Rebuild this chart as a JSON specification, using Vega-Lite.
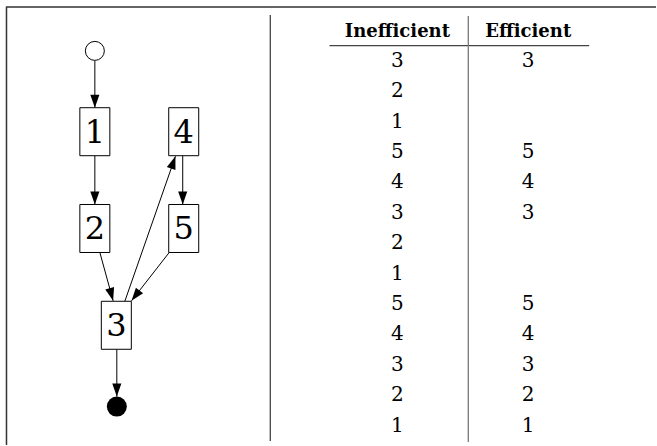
{
  "$schema": "https://vega.github.io/schema/vega-lite/v6.json",
  "width": 657,
  "height": 446,
  "autosize": {"type": "fit", "contains": "padding"},
  "padding": 0,
  "background": "white",
  "config": {"view": {"stroke": null}},
  "datasets": {
    "frame": [
      {"x": 6.5, "y": 7, "x2": 657, "y2": 7},
      {"x": 6.5, "y": 6.5, "x2": 6.5, "y2": 446}
    ],
    "panelDivider": [
      {"x": 270.7, "y": 15, "x2": 270.7, "y2": 442}
    ],
    "nodes": [
      {"id": "1", "x": 95, "y": 132},
      {"id": "2", "x": 95, "y": 229},
      {"id": "3", "x": 116.5, "y": 326},
      {"id": "4", "x": 184, "y": 132},
      {"id": "5", "x": 184, "y": 229}
    ],
    "terminals": [
      {"id": "start", "x": 95, "y": 51},
      {"id": "end", "x": 117, "y": 407.5}
    ],
    "edges": [
      {"from": "start", "to": "1", "x": 95, "y": 61, "x2": 95, "y2": 108},
      {"from": "1", "to": "2", "x": 95, "y": 156, "x2": 95, "y2": 205},
      {"from": "2", "to": "3", "x": 100, "y": 253, "x2": 113.3, "y2": 301.5},
      {"from": "3", "to": "4", "x": 125, "y": 302, "x2": 175.7, "y2": 156.7},
      {"from": "4", "to": "5", "x": 183, "y": 156, "x2": 183, "y2": 205},
      {"from": "5", "to": "3", "x": 169.5, "y": 253, "x2": 131.7, "y2": 301.5},
      {"from": "3", "to": "end", "x": 117, "y": 350, "x2": 117, "y2": 397.5}
    ],
    "headers": [
      {"row": 0, "col": 0, "label": "Inefficient"},
      {"row": 0, "col": 1, "label": "Efficient"}
    ],
    "cells": [
      {"row": 1, "col": 0, "value": "3"},
      {"row": 2, "col": 0, "value": "2"},
      {"row": 3, "col": 0, "value": "1"},
      {"row": 4, "col": 0, "value": "5"},
      {"row": 5, "col": 0, "value": "4"},
      {"row": 6, "col": 0, "value": "3"},
      {"row": 7, "col": 0, "value": "2"},
      {"row": 8, "col": 0, "value": "1"},
      {"row": 9, "col": 0, "value": "5"},
      {"row": 10, "col": 0, "value": "4"},
      {"row": 11, "col": 0, "value": "3"},
      {"row": 12, "col": 0, "value": "2"},
      {"row": 13, "col": 0, "value": "1"},
      {"row": 1, "col": 1, "value": "3"},
      {"row": 4, "col": 1, "value": "5"},
      {"row": 5, "col": 1, "value": "4"},
      {"row": 6, "col": 1, "value": "3"},
      {"row": 9, "col": 1, "value": "5"},
      {"row": 10, "col": 1, "value": "4"},
      {"row": 11, "col": 1, "value": "3"},
      {"row": 12, "col": 1, "value": "2"},
      {"row": 13, "col": 1, "value": "1"}
    ],
    "tableRules": [
      {"kind": "underline", "col": -0.519, "col2": 1.466, "row": 0.547, "row2": 0.547},
      {"kind": "divider", "col": 0.542, "col2": 0.542, "row": -0.428, "row2": 13.59}
    ]
  },
  "layer": [
    {
      "encoding": {
        "x": {"type": "quantitative", "axis": null, "scale": {"domain": [0, 657], "nice": false, "zero": false}},
        "y": {"type": "quantitative", "axis": null, "scale": {"domain": [0, 446], "nice": false, "zero": false, "reverse": true}}
      },
      "layer": [
        {
          "data": {"name": "frame"},
          "mark": {"type": "rule", "color": "#333333", "strokeWidth": 1.5},
          "encoding": {
            "x": {"field": "x", "type": "quantitative"},
            "y": {"field": "y", "type": "quantitative"},
            "x2": {"field": "x2"},
            "y2": {"field": "y2"}
          }
        },
        {
          "data": {"name": "panelDivider"},
          "mark": {"type": "rule", "color": "#444444", "strokeWidth": 1.3},
          "encoding": {
            "x": {"field": "x", "type": "quantitative"},
            "y": {"field": "y", "type": "quantitative"},
            "x2": {"field": "x2"},
            "y2": {"field": "y2"}
          }
        },
        {
          "data": {"name": "edges"},
          "mark": {"type": "rule", "color": "black", "strokeWidth": 1},
          "encoding": {
            "x": {"field": "x", "type": "quantitative"},
            "y": {"field": "y", "type": "quantitative"},
            "x2": {"field": "x2"},
            "y2": {"field": "y2"}
          }
        },
        {
          "data": {"name": "edges"},
          "transform": [
            {"calculate": "atan2(datum.x2 - datum.x, datum.y - datum.y2) * 180 / PI", "as": "ang"}
          ],
          "mark": {"type": "point", "shape": "M0,0L0.7,2L-0.7,2Z", "size": 169, "filled": true, "fill": "black", "stroke": null, "opacity": 1},
          "encoding": {
            "x": {"field": "x2", "type": "quantitative"},
            "y": {"field": "y2", "type": "quantitative"},
            "angle": {"field": "ang", "type": "quantitative", "scale": null}
          }
        },
        {
          "data": {"name": "nodes"},
          "mark": {"type": "point", "shape": "M-0.625,-1L0.625,-1L0.625,1L-0.625,1Z", "size": 2304, "filled": true, "fill": "white", "stroke": "black", "strokeWidth": 1, "opacity": 1},
          "encoding": {
            "x": {"field": "x", "type": "quantitative"},
            "y": {"field": "y", "type": "quantitative"}
          }
        },
        {
          "data": {"name": "nodes"},
          "mark": {"type": "text", "font": "DejaVu Serif", "fontSize": 32, "baseline": "alphabetic", "align": "center", "dy": 11, "color": "black"},
          "encoding": {
            "x": {"field": "x", "type": "quantitative"},
            "y": {"field": "y", "type": "quantitative"},
            "text": {"field": "id"}
          }
        },
        {
          "data": {"name": "terminals"},
          "transform": [{"filter": "datum.id === 'start'"}],
          "mark": {"type": "point", "shape": "circle", "size": 361, "filled": true, "fill": "white", "stroke": "black", "strokeWidth": 1, "opacity": 1},
          "encoding": {
            "x": {"field": "x", "type": "quantitative"},
            "y": {"field": "y", "type": "quantitative"}
          }
        },
        {
          "data": {"name": "terminals"},
          "transform": [{"filter": "datum.id === 'end'"}],
          "mark": {"type": "point", "shape": "circle", "size": 400, "filled": true, "fill": "black", "stroke": null, "opacity": 1},
          "encoding": {
            "x": {"field": "x", "type": "quantitative"},
            "y": {"field": "y", "type": "quantitative"}
          }
        }
      ]
    },
    {
      "encoding": {
        "x": {"type": "quantitative", "axis": null, "scale": {"domain": [-3.038, 1.977], "nice": false, "zero": false}},
        "y": {"type": "quantitative", "axis": null, "scale": {"domain": [-0.953, 13.689], "nice": false, "zero": false, "reverse": true}}
      },
      "layer": [
        {
          "data": {"name": "tableRules"},
          "transform": [{"filter": "datum.kind === 'underline'"}],
          "mark": {"type": "rule", "color": "#444444", "strokeWidth": 1.3},
          "encoding": {
            "x": {"field": "col", "type": "quantitative"},
            "y": {"field": "row", "type": "quantitative"},
            "x2": {"field": "col2"},
            "y2": {"field": "row2"}
          }
        },
        {
          "data": {"name": "tableRules"},
          "transform": [{"filter": "datum.kind === 'divider'"}],
          "mark": {"type": "rule", "color": "#777777", "strokeWidth": 1.3},
          "encoding": {
            "x": {"field": "col", "type": "quantitative"},
            "y": {"field": "row", "type": "quantitative"},
            "x2": {"field": "col2"},
            "y2": {"field": "row2"}
          }
        },
        {
          "data": {"name": "headers"},
          "mark": {"type": "text", "font": "DejaVu Serif", "fontWeight": "bold", "fontSize": 18, "baseline": "alphabetic", "align": "center", "dy": 8, "color": "black"},
          "encoding": {
            "x": {"field": "col", "type": "quantitative"},
            "y": {"field": "row", "type": "quantitative"},
            "text": {"field": "label"}
          }
        },
        {
          "data": {"name": "cells"},
          "mark": {"type": "text", "font": "DejaVu Serif", "fontSize": 20, "baseline": "alphabetic", "align": "center", "dy": 7.5, "color": "black"},
          "encoding": {
            "x": {"field": "col", "type": "quantitative"},
            "y": {"field": "row", "type": "quantitative"},
            "text": {"field": "value"}
          }
        }
      ]
    }
  ],
  "resolve": {"scale": {"x": "independent", "y": "independent"}}
}
